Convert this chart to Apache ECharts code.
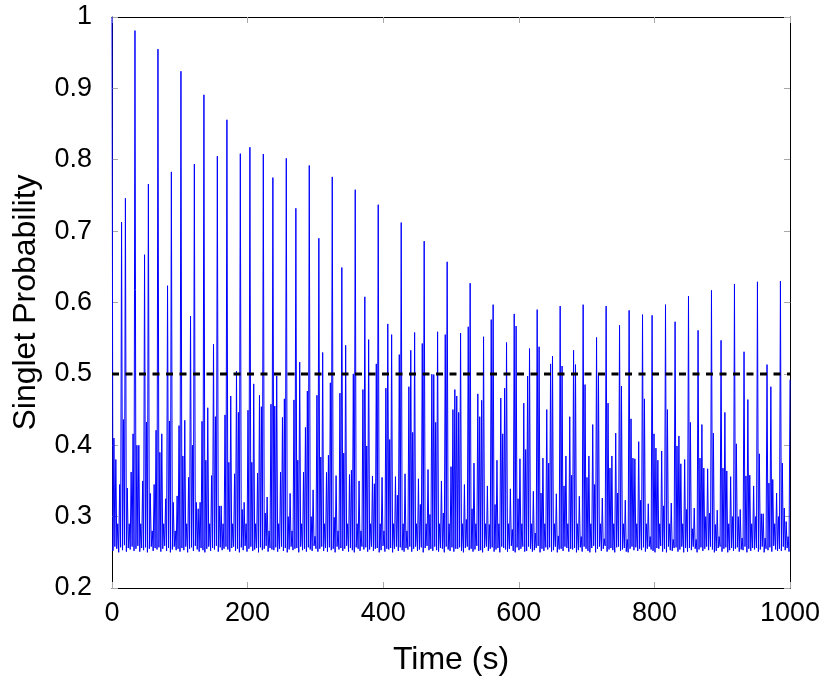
<!DOCTYPE html>
<html>
<head>
<meta charset="utf-8">
<script src="https://cdn.jsdelivr.net/npm/echarts@6/dist/echarts.min.js"></script>
<style>
  html, body { margin: 0; padding: 0; background: #fff; }
  #chart { width: 830px; height: 685px; }
</style>
</head>
<body>
<div id="chart"></div>
<script>
// time axis: one oscillation every 1000/354 s (12 oscillations ~ 33.9 s)
const tEnd = 1000;
const stepT = tEnd / 354;

// peak height of each oscillation, one row = 12 oscillations
const peakValues = [
  1.0, 0.41, 0.38, 0.29, 0.345, 0.7125, 0.436, 0.746, 0.34, 0.29, 0.3625, 0.416,
  0.981, 0.40, 0.40, 0.29, 0.35, 0.667, 0.4325, 0.766, 0.3325, 0.28, 0.345, 0.421,
  0.955, 0.39, 0.416, 0.29, 0.325, 0.6235, 0.434, 0.783, 0.32, 0.28, 0.329, 0.4275,
  0.924, 0.385, 0.435, 0.29, 0.355, 0.581, 0.40, 0.794, 0.32, 0.311, 0.32, 0.4335,
  0.891, 0.379, 0.4525, 0.29, 0.3575, 0.5415, 0.44, 0.805, 0.315, 0.315, 0.29, 0.4425,
  0.856, 0.376, 0.469, 0.29, 0.36, 0.504, 0.446, 0.8085, 0.31, 0.32, 0.29, 0.449,
  0.8175, 0.376, 0.486, 0.29, 0.361, 0.47, 0.454, 0.808, 0.305, 0.3275, 0.28, 0.4575,
  0.775, 0.455, 0.497, 0.29, 0.3625, 0.439, 0.465, 0.802, 0.30, 0.3325, 0.28, 0.4635,
  0.732, 0.379, 0.5165, 0.29, 0.3625, 0.425, 0.476, 0.792, 0.30, 0.3375, 0.2725, 0.47,
  0.69, 0.3835, 0.53, 0.29, 0.362, 0.386, 0.4875, 0.776, 0.299, 0.3575, 0.28, 0.473,
  0.649, 0.389, 0.54, 0.29, 0.359, 0.365, 0.50, 0.758, 0.29, 0.35, 0.28, 0.478,
  0.608, 0.399, 0.548, 0.29, 0.357, 0.346, 0.514, 0.737, 0.29, 0.355, 0.28, 0.48,
  0.57, 0.408, 0.555, 0.29, 0.356, 0.33, 0.527, 0.712, 0.29, 0.36, 0.28, 0.482,
  0.533, 0.418, 0.558, 0.29, 0.353, 0.317, 0.5425, 0.686, 0.29, 0.366, 0.303, 0.4995,
  0.499, 0.432, 0.559, 0.29, 0.35, 0.305, 0.555, 0.657, 0.29, 0.37, 0.45, 0.478,
  0.469, 0.446, 0.557, 0.29, 0.345, 0.296, 0.566, 0.627, 0.311, 0.375, 0.29, 0.472,
  0.44, 0.463, 0.552, 0.29, 0.343, 0.289, 0.576, 0.597, 0.317, 0.379, 0.29, 0.466,
  0.416, 0.48, 0.544, 0.29, 0.339, 0.282, 0.584, 0.567, 0.325, 0.381, 0.29, 0.459,
  0.394, 0.497, 0.5355, 0.29, 0.3355, 0.277, 0.59, 0.538, 0.333, 0.382, 0.29, 0.45,
  0.375, 0.514, 0.525, 0.29, 0.332, 0.273, 0.595, 0.511, 0.343, 0.385, 0.29, 0.44,
  0.358, 0.533, 0.513, 0.29, 0.3285, 0.272, 0.597, 0.485, 0.355, 0.385, 0.29, 0.429,
  0.345, 0.551, 0.498, 0.29, 0.326, 0.269, 0.595, 0.459, 0.368, 0.385, 0.29, 0.417,
  0.333, 0.568, 0.483, 0.29, 0.323, 0.268, 0.589, 0.437, 0.382, 0.381, 0.29, 0.405,
  0.323, 0.583, 0.465, 0.29, 0.318, 0.272, 0.582, 0.416, 0.396, 0.379, 0.29, 0.392,
  0.315, 0.597, 0.45, 0.29, 0.319, 0.268, 0.573, 0.399, 0.413, 0.374, 0.29, 0.38,
  0.31, 0.609, 0.432, 0.283, 0.312, 0.268, 0.561, 0.382, 0.429, 0.368, 0.30, 0.367,
  0.305, 0.617, 0.417, 0.289, 0.309, 0.272, 0.547, 0.368, 0.446, 0.364, 0.29, 0.356,
  0.30, 0.626, 0.402, 0.30, 0.31, 0.27, 0.531, 0.357, 0.464, 0.358, 0.29, 0.343,
  0.30, 0.629, 0.388, 0.304, 0.304, 0.27, 0.513, 0.347, 0.482, 0.352, 0.29, 0.333,
  0.30, 0.63, 0.375, 0.312, 0.293, 0.272, 0.492
];

// minimum between consecutive peaks
const troughValues = [
  0.252, 0.258, 0.255, 0.250, 0.257, 0.253, 0.260, 0.251, 0.256, 0.254, 0.258, 0.252,
  0.255, 0.259, 0.251, 0.256, 0.253, 0.257, 0.250, 0.255, 0.258, 0.252, 0.256, 0.254,
  0.257, 0.251, 0.255, 0.259, 0.252, 0.256, 0.250, 0.254, 0.258, 0.253, 0.255, 0.251,
  0.256, 0.253, 0.258, 0.250, 0.255, 0.257, 0.252, 0.259, 0.254, 0.251, 0.256, 0.253,
  0.250, 0.255, 0.258, 0.252, 0.256, 0.254, 0.259, 0.251, 0.257, 0.253, 0.255, 0.258,
  0.254, 0.251, 0.256, 0.258, 0.252, 0.255, 0.250, 0.257, 0.253, 0.259, 0.251, 0.255,
  0.258, 0.252, 0.254, 0.256, 0.250, 0.257, 0.253, 0.255, 0.259, 0.251, 0.256, 0.254,
  0.253, 0.257, 0.251, 0.255, 0.258, 0.252, 0.256, 0.250, 0.254, 0.258, 0.253, 0.255,
  0.256, 0.250, 0.258, 0.253, 0.255, 0.251, 0.257, 0.254, 0.252, 0.259, 0.255, 0.251,
  0.255, 0.258, 0.252, 0.256, 0.251, 0.257, 0.253, 0.255, 0.250, 0.258, 0.254, 0.256,
  0.252, 0.255, 0.259, 0.251, 0.256, 0.253, 0.250, 0.257, 0.255, 0.252, 0.258, 0.254,
  0.257, 0.251, 0.254, 0.258, 0.252, 0.255, 0.256, 0.250, 0.253, 0.259, 0.251, 0.255,
  0.254, 0.256, 0.250, 0.255, 0.258, 0.252, 0.257, 0.253, 0.251, 0.256, 0.254, 0.258,
  0.251, 0.255, 0.258, 0.252, 0.254, 0.257, 0.250, 0.256, 0.259, 0.253, 0.255, 0.252,
  0.258, 0.253, 0.251, 0.256, 0.255, 0.250, 0.258, 0.254, 0.252, 0.257, 0.251, 0.255,
  0.255, 0.257, 0.252, 0.250, 0.256, 0.258, 0.253, 0.255, 0.251, 0.254, 0.259, 0.252,
  0.253, 0.250, 0.256, 0.258, 0.252, 0.255, 0.257, 0.251, 0.254, 0.256, 0.250, 0.258,
  0.256, 0.254, 0.251, 0.255, 0.259, 0.252, 0.250, 0.257, 0.253, 0.255, 0.258, 0.251,
  0.252, 0.258, 0.255, 0.251, 0.253, 0.256, 0.259, 0.250, 0.255, 0.252, 0.257, 0.254,
  0.257, 0.251, 0.253, 0.258, 0.250, 0.254, 0.255, 0.252, 0.258, 0.256, 0.251, 0.255,
  0.254, 0.256, 0.250, 0.253, 0.257, 0.251, 0.258, 0.255, 0.252, 0.250, 0.256, 0.259,
  0.250, 0.255, 0.258, 0.252, 0.255, 0.259, 0.251, 0.254, 0.256, 0.253, 0.250, 0.257,
  0.258, 0.252, 0.254, 0.256, 0.251, 0.250, 0.255, 0.258, 0.253, 0.257, 0.252, 0.255,
  0.253, 0.257, 0.251, 0.255, 0.258, 0.254, 0.252, 0.250, 0.256, 0.255, 0.259, 0.251,
  0.255, 0.250, 0.258, 0.253, 0.252, 0.256, 0.257, 0.251, 0.254, 0.258, 0.250, 0.256,
  0.251, 0.256, 0.253, 0.258, 0.255, 0.250, 0.254, 0.257, 0.252, 0.255, 0.258, 0.253,
  0.258, 0.254, 0.250, 0.252, 0.256, 0.258, 0.251, 0.255, 0.257, 0.250, 0.253, 0.256,
  0.252, 0.255, 0.257, 0.251, 0.254, 0.253, 0.258, 0.250, 0.255, 0.252, 0.256, 0.254,
  0.256, 0.251, 0.254, 0.258, 0.250, 0.255, 0.253, 0.257, 0.251, 0.259, 0.254, 0.252,
  0.255, 0.252, 0.258, 0.253, 0.256, 0.251
];

const thresholdT = [0, 1000];
const thresholdP = [0.5, 0.5];

const xMin = 0, xMax = 1000, xStep = 200;
const yMin = 0.2, yMax = 1, yStep = 0.1;

const signal = [];
peakValues.forEach((v, k) => {
  signal.push([k * stepT, v]);
  if (k < troughValues.length) signal.push([(k + 0.5) * stepT, troughValues[k]]);
});
const threshold = thresholdT.map((t, i) => [t, thresholdP[i]]);

const chart = echarts.init(document.getElementById('chart'), null, { renderer: 'canvas' });

const tickFont = { fontFamily: '"Liberation Sans", sans-serif', fontSize: 27, color: '#000' };
const nameFont = { fontFamily: '"Liberation Sans", sans-serif', fontSize: 32, color: '#000' };
const frameLine = { show: true, onZero: false, lineStyle: { color: '#000', width: 1 } };
const innerTick = { show: true, inside: true, length: 6, lineStyle: { color: '#a8a8a8', width: 1 } };

chart.setOption({
  animation: false,
  backgroundColor: '#fff',
  grid: { left: 112, right: 40, top: 17, bottom: 97 },
  xAxis: [
    {
      type: 'value', min: xMin, max: xMax, interval: xStep,
      name: 'Time (s)', nameLocation: 'middle', nameGap: 56, nameTextStyle: nameFont,
      axisLine: frameLine, axisTick: innerTick, splitLine: { show: false },
      axisLabel: Object.assign({ margin: 12, formatter: v => String(v) }, tickFont)
    },
    {
      type: 'value', position: 'top', min: xMin, max: xMax, interval: xStep,
      axisLine: frameLine, axisTick: innerTick, splitLine: { show: false },
      axisLabel: { show: false }
    }
  ],
  yAxis: [
    {
      type: 'value', min: yMin, max: yMax, interval: yStep,
      name: 'Singlet Probability', nameLocation: 'middle', nameGap: 70, nameTextStyle: nameFont,
      axisLine: frameLine, axisTick: innerTick, splitLine: { show: false },
      axisLabel: Object.assign({ margin: 20, formatter: v => String(Math.round(v * 10) / 10) }, tickFont)
    },
    {
      type: 'value', position: 'right', min: yMin, max: yMax, interval: yStep,
      axisLine: frameLine, axisTick: innerTick, splitLine: { show: false },
      axisLabel: { show: false }
    }
  ],
  series: [
    {
      type: 'line', data: signal, showSymbol: false, sampling: null,
      lineStyle: { color: '#0000ff', width: 1 }, z: 2
    },
    {
      type: 'line', data: threshold, showSymbol: false,
      lineStyle: { color: '#000', width: 3, type: [7, 6.5] }, z: 3
    }
  ]
});
</script>
</body>
</html>
